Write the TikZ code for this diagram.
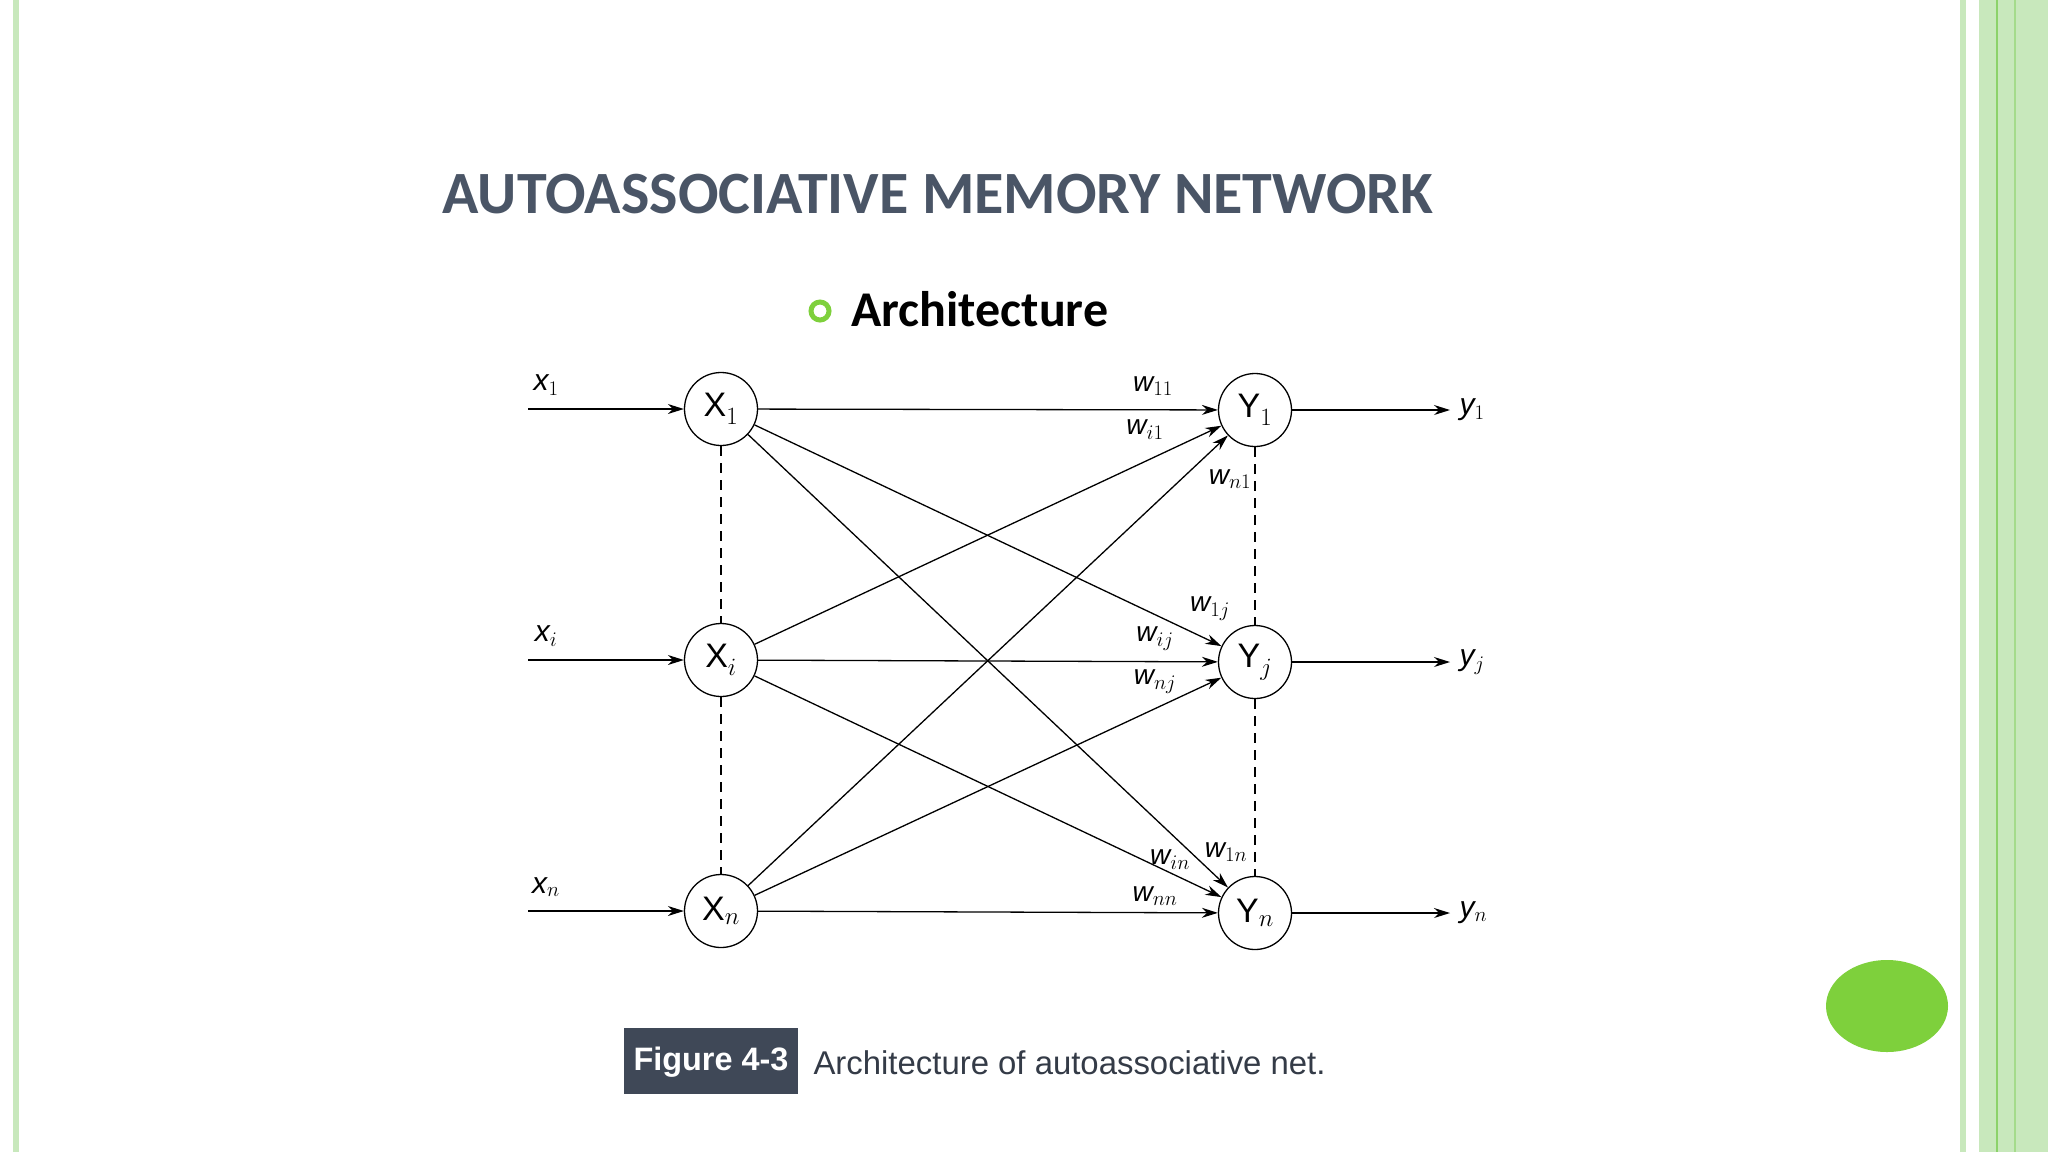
\documentclass[tikz,border=0pt]{standalone}
\usepackage{fontspec}
\setmainfont{Liberation Sans}
\newfontfamily\carl{Carlito}
\usetikzlibrary{arrows.meta}
\definecolor{ttl}{HTML}{4A5566}
\definecolor{lg}{HTML}{C8E8BC}
\definecolor{mg}{HTML}{8CD26A}
\definecolor{bg}{HTML}{7ED03C}
\begin{document}
\begin{tikzpicture}[x=1pt,y=-1pt,
 neu/.style={circle,draw,line width=1.3pt,minimum size=73pt,inner sep=0pt,font=\fontsize{34}{34}\selectfont},
 con/.style={line width=1.3pt,-{Stealth[length=16pt,width=10pt]}},
 dsh/.style={line width=1.3pt,dash pattern=on 10pt off 7pt},
 lab/.style={font=\fontsize{30}{30}\selectfont\itshape},
 wl/.style={font=\fontsize{28}{28}\selectfont\itshape}]
\useasboundingbox (0,0) rectangle (2048,1152);
\fill[white] (0,0) rectangle (2048,1152);
% borders
\fill[lg] (13,0) rectangle (19,1152);
\fill[lg] (1960,0) rectangle (1966,1152);
\fill[lg] (1979,0) rectangle (2048,1152);
\fill[mg] (1996,0) rectangle (1998,1152);
\fill[mg!60!lg] (2014,0) rectangle (2016,1152);
\fill[bg] (1887,1006) ellipse [x radius=61, y radius=46];
% title
\node[font=\carl\bfseries\fontsize{60}{60}\selectfont,text=ttl] (title) at (938,194) {AUTOASSOCIATIVE MEMORY NETWORK};
\draw[bg,line width=5pt] (820,311) circle (9);
\node[font=\carl\bfseries\fontsize{50}{50}\selectfont,anchor=west] (arch) at (848,309) {Architecture};
% neurons
\node[neu] (X1) at (721,409) {X$_1$};
\node[neu] (Xi) at (721,660) {X$_i$};
\node[neu] (Xn) at (721,911) {X$_n$};
\node[neu] (Y1) at (1255,410) {Y$_1$};
\node[neu] (Yj) at (1255,662) {Y$_j$};
\node[neu] (Yn) at (1255,913) {Y$_n$};
\coordinate (i1) at (528,409); \coordinate (ii) at (528,660); \coordinate (in) at (528,911);
\coordinate (o1) at (1450,410); \coordinate (oj) at (1450,662); \coordinate (on) at (1450,913);
\draw[con] (i1) -- (X1); \draw[con] (ii) -- (Xi); \draw[con] (in) -- (Xn);
\draw[con] (Y1) -- (o1); \draw[con] (Yj) -- (oj); \draw[con] (Yn) -- (on);
\node[lab] at (546,385) {x$_1$};
\node[lab] at (546,636) {x$_i$};
\node[lab] at (546,887) {x$_n$};
\node[lab,anchor=west] at (1456,410) {y$_1$};
\node[lab,anchor=west] at (1456,662) {y$_j$};
\node[lab,anchor=west] at (1456,913) {y$_n$};
\foreach \a in {X1,Xi,Xn}{\foreach \b in {Y1,Yj,Yn}{\draw[con] (\a) -- (\b);}}
\draw[dsh] (X1) -- (Xi); \draw[dsh] (Xi) -- (Xn);
\draw[dsh] (Y1) -- (Yj); \draw[dsh] (Yj) -- (Yn);
\node[wl] at (1153,386) {w$_{11}$};
\node[wl] at (1145,430) {w$_{i1}$};
\node[wl] at (1230,479) {w$_{n1}$};
\node[wl] at (1210,609) {w$_{1j}$};
\node[wl] at (1155,639) {w$_{ij}$};
\node[wl] at (1155,682) {w$_{nj}$};
\node[wl] at (1170,860) {w$_{in}$};
\node[wl] at (1226,852) {w$_{1n}$};
\node[wl] at (1155,896) {w$_{nn}$};
% caption
\fill[ttl!85!black] (624,1028) rectangle (798,1094);
\node[text=white,font=\bfseries\fontsize{38}{38}\selectfont] (fig) at (711,1062) {\resizebox{155pt}{!}{Figure 4-3}};
\node[anchor=west,text=ttl!70!black,font=\fontsize{38}{38}\selectfont] (cap) at (810,1063) {\resizebox{512pt}{!}{Architecture of autoassociative net.}};
\end{tikzpicture}
\end{document}
